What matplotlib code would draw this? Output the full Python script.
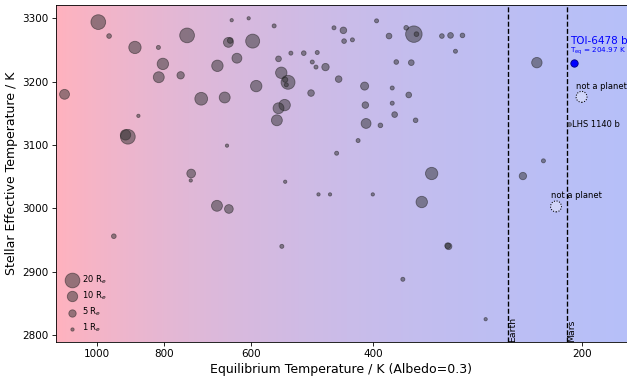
import numpy as np
import matplotlib
matplotlib.use("Agg")
import matplotlib.pyplot as plt
from matplotlib.colors import LinearSegmentedColormap
from matplotlib.ticker import NullLocator, FixedLocator, FixedFormatter

# --- Data ---
teq = [995, 960, 881, 815, 741, 639, 604, 646, 642, 596,
       803, 814, 757, 670, 628, 555, 547, 525, 503, 481,
       542, 530, 535, 533, 589, 707, 654, 1113, 491, 489,
       483, 536, 547, 550, 871, 909, 902, 649, 731, 732,
       535, 479, 395, 455, 441, 440, 428, 379, 358, 349,
       346, 318, 309, 297, 304, 468, 448, 370, 352, 411,
       375, 355, 410, 375, 372, 347, 409, 390, 420, 451,
       329, 461, 400, 340, 311, 312, 362, 275, 671, 645,
       945, 541, 227, 243, 232]
teff = [3294, 3272, 3254, 3254, 3273, 3297, 3300, 3262, 3265, 3264,
        3228, 3207, 3210, 3225, 3237, 3288, 3236, 3245, 3245, 3246,
        3214, 3199, 3203, 3195, 3193, 3173, 3175, 3180, 3182, 3231,
        3223, 3163, 3158, 3139, 3146, 3116, 3113, 3099, 3055, 3044,
        3042, 3022, 3296, 3285, 3281, 3264, 3266, 3272, 3285, 3275,
        3275, 3272, 3273, 3273, 3248, 3223, 3204, 3231, 3230, 3193,
        3190, 3179, 3163, 3166, 3148, 3139, 3134, 3131, 3107, 3087,
        3055, 3022, 3022, 3010, 2940, 2941, 2888, 2825, 3004, 2999,
        2956, 2940, 3075, 3051, 3230]
radius = [20, 2, 14, 1.5, 20, 1, 1, 9, 3, 18,
          12, 11, 5, 12, 9, 1.5, 3, 1.5, 2, 1.5,
          12, 18, 2.5, 1.5, 12, 15, 11, 9, 4, 1.5,
          1.5, 12, 11, 11, 1, 10, 20, 1, 7, 1,
          1, 1, 1.5, 1.5, 4, 2, 1.5, 3, 2, 25,
          2, 2, 3, 2, 1.5, 5, 4, 2, 3, 6,
          1.5, 3, 4, 1.5, 3, 2, 9, 2, 1.5, 1.5,
          14, 1, 1, 12, 4, 3, 1.5, 1, 11, 7,
          2, 1.5, 1.5, 5, 10]

lhs_teq, lhs_teff, lhs_rad = 208.5, 3133, 1.5
toi_teq, toi_teff = 204.97, 3230
notplanet_teq = [200, 217.7]
notplanet_teff = [3176, 3003]

earth_teq = 255
mars_teq = 210

legend_radii = [20, 10, 5, 1]

xticks = [1000, 800, 600, 400, 200]
yticks = [2800, 2900, 3000, 3100, 3200, 3300]
xlim = (1145, 172)
ylim = (2789, 3321)

# --- Figure ---
fig = plt.figure(figsize=(627 / 75, 380 / 75), dpi=75)
ax = fig.add_axes([56 / 627, 38 / 380, 571 / 627, 337 / 380])
ax.set_xscale("log")

# background: hot (pink) -> cold (blue), linear in temperature
cmap = LinearSegmentedColormap.from_list("bg", ["#ffb2be", "#b6bff8"])
xedges = np.linspace(xlim[1], xlim[0], 400)
xmid = 0.5 * (xedges[1:] + xedges[:-1])
ax.pcolormesh(xedges, list(ylim), xmid.reshape(1, -1), cmap=cmap.reversed(),
              vmin=xlim[1], vmax=xlim[0], shading="flat", zorder=0, rasterized=True)

sc_kw = dict(c="#303030", alpha=0.5, edgecolors="#1a1a1a", linewidths=0.8, zorder=3)
ax.scatter(teq, teff, s=[10 * r for r in radius], **sc_kw)
ax.scatter([lhs_teq], [lhs_teff], s=10 * lhs_rad, **sc_kw)
ax.annotate("LHS 1140 b", (lhs_teq, lhs_teff), xytext=(3, 0), textcoords="offset points",
            fontsize=8, ha="left", va="center")

# TOI-6478 b
ax.scatter([toi_teq], [toi_teff], s=50, c="blue", edgecolors="navy", linewidths=0.8, zorder=4)
ax.annotate("TOI-6478 b", (toi_teq, toi_teff), xytext=(-4, 20.5), textcoords="offset points",
            fontsize=10, color="blue", ha="left", va="center")
ax.annotate(r"T$_{\rm eq}$ = %.2f K" % toi_teq, (toi_teq, toi_teff), xytext=(-4, 11),
            textcoords="offset points", fontsize=7, color="blue", ha="left", va="center")

# not a planet
ax.scatter(notplanet_teq, notplanet_teff, s=110, facecolors=(1, 1, 1, 0.35),
           edgecolors="k", linewidths=1.0, linestyles=[(0, (1, 1.5))], zorder=3)
for x, y in zip(notplanet_teq, notplanet_teff):
    ax.annotate("not a planet", (x, y), xytext=(-5, 6), textcoords="offset points",
                fontsize=8, ha="left", va="bottom")

# Earth / Mars
for t, name in [(earth_teq, "Earth"), (mars_teq, "Mars")]:
    ax.axvline(t, color="k", ls="--", lw=1.3, zorder=2)
    ax.text(t, 0.0, name, transform=ax.get_xaxis_transform(), rotation=90,
            fontsize=9, ha="left", va="bottom")

# size legend
handles = [ax.scatter([], [], s=10 * r, **sc_kw) for r in legend_radii]
labels = [r"%d R$_e$" % r for r in legend_radii]
ax.legend(handles, labels, loc="lower left", frameon=False, fontsize=8,
          handletextpad=0.2, labelspacing=0.45, scatterpoints=1)

ax.set_xlim(*xlim)
ax.set_ylim(*ylim)
ax.xaxis.set_major_locator(FixedLocator(xticks))
ax.xaxis.set_major_formatter(FixedFormatter([str(t) for t in xticks]))
ax.xaxis.set_minor_locator(NullLocator())
ax.set_yticks(yticks)

ax.set_xlabel("Equilibrium Temperature / K (Albedo=0.3)", fontsize=12)
ax.set_ylabel("Stellar Effective Temperature / K", fontsize=12)

fig.savefig("out.png", dpi=75)
